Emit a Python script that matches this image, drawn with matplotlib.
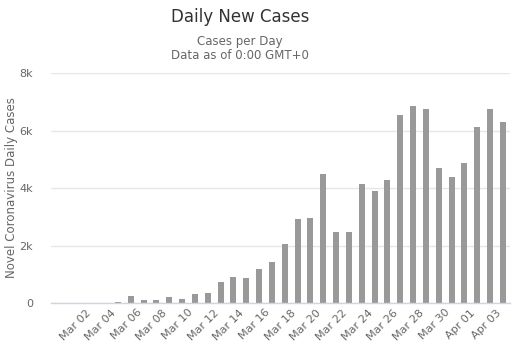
import matplotlib
matplotlib.use("Agg")
import matplotlib.pyplot as plt
from matplotlib.ticker import FuncFormatter

dates = ["Mar 01", "Mar 02", "Mar 03", "Mar 04", "Mar 05", "Mar 06", "Mar 07", "Mar 08",
         "Mar 09", "Mar 10", "Mar 11", "Mar 12", "Mar 13", "Mar 14", "Mar 15", "Mar 16",
         "Mar 17", "Mar 18", "Mar 19", "Mar 20", "Mar 21", "Mar 22", "Mar 23", "Mar 24",
         "Mar 25", "Mar 26", "Mar 27", "Mar 28", "Mar 29", "Mar 30", "Mar 31", "Apr 01",
         "Apr 02", "Apr 03"]
cases = [0, 0, 0, 45, 255, 115, 115, 220,
         150, 325, 360, 740, 915, 880, 1195, 1435,
         2060, 2930, 2970, 4500, 2480, 2480, 4150, 3905,
         4290, 6550, 6860, 6760, 4705, 4395, 4880, 6130,
         6760, 6305]
yticks = [0, 2000, 4000, 6000, 8000]

W, H = 518, 357
fig = plt.figure(figsize=(W / 100, H / 100), dpi=100)
ax = fig.add_axes([51 / W, (H - 303.3) / H, (510 - 51) / W, (303.3 - 73.3) / H])

x = list(range(len(dates)))
ax.bar(x, cases, width=0.47, color="#999999", zorder=3)

ax.set_ylim(0, 8000)
ax.set_xlim(-2.22, len(dates) - 1 + 0.55)
ax.set_yticks(yticks)
ax.yaxis.set_major_formatter(FuncFormatter(lambda v, p: "0" if v == 0 else f"{int(v/1000)}k"))
ax.grid(axis="y", color="#e6e6e6", linewidth=1, zorder=0)
for s in ["top", "right", "left"]:
    ax.spines[s].set_visible(False)
ax.spines["bottom"].set_color("#ccd6eb")
ax.spines["bottom"].set_linewidth(1)
ax.spines["bottom"].set_zorder(4)

ax.set_xticks(x[1::2])
ax.set_xticklabels(dates[1::2], rotation=45, ha="right", va="top",
                   fontsize=8, color="#666666")
ax.tick_params(axis="x", length=0, pad=3)
ax.tick_params(axis="y", length=0, pad=13, labelsize=8, labelcolor="#666666")

fig.text(12 / W, 1 - 188 / H, "Novel Coronavirus Daily Cases", rotation=90,
         ha="center", va="center", fontsize=8.5, color="#666666")

fig.text(240 / W, 1 - 17 / H, "Daily New Cases", ha="center", va="center",
         fontsize=12, color="#333333")
fig.text(240 / W, 1 - 41.5 / H, "Cases per Day", ha="center", va="center",
         fontsize=8.5, color="#666666")
fig.text(240 / W, 1 - 55.5 / H, "Data as of 0:00 GMT+0", ha="center", va="center",
         fontsize=8.5, color="#666666")

fig.savefig("out.png", dpi=100)
